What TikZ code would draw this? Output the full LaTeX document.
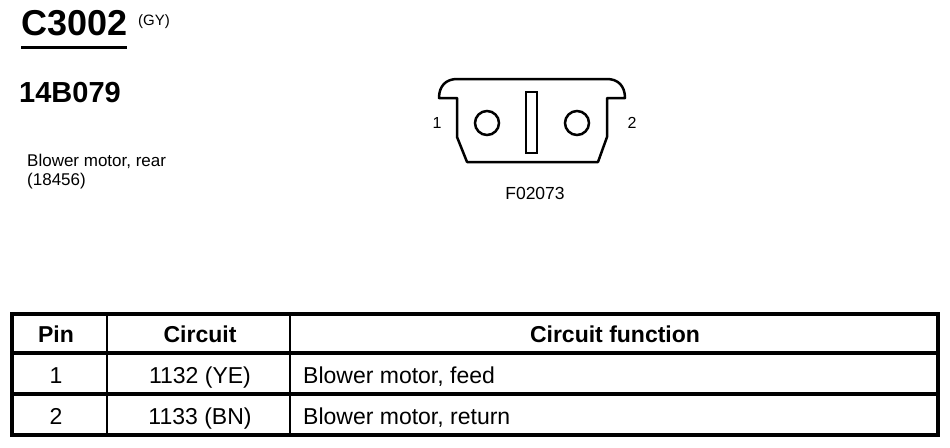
\documentclass[tikz,border=0pt]{standalone}
\usepackage{fontspec}
\setmainfont{Liberation Sans}
\usetikzlibrary{calc}
\tikzset{
  txt/.style={inner sep=0pt, anchor=base west},
  mid/.style={inner sep=0pt, anchor=base},
  hdr/.style={mid, font=\fontsize{23}{27}\selectfont\bfseries},
  cell/.style={font=\fontsize{23}{27}\selectfont},
}

\begin{document}
\begin{tikzpicture}[x=1pt,y=-1pt]
			%%%%% START %%%%%
			\useasboundingbox (0,0) rectangle (950,447);
			
			\node[txt, font=\fontsize{36}{40}\selectfont\bfseries] (conn) at (21,35) {C3002};
			\draw[line width=3pt] (21,47) -- (127,47);
			\node[txt, font=\fontsize{15}{17}\selectfont] (col) at (138,25) {(GY)};
			\node[txt, font=\fontsize{29}{33}\selectfont\bfseries] (part) at (19,102) {14B079};
			\node[txt, font=\fontsize{17}{20}\selectfont] (desc) at (27,166) {Blower motor, rear};
			\node[txt, font=\fontsize{17}{20}\selectfont] (num) at (27,185) {(18456)};
			
			% connector face
			\draw[line width=2.5pt, line join=round] (439,98) -- (457,98) -- (457,137) -- (467,162) -- (598,162) -- (607,137) -- (607,98) -- (625,98) .. controls (625,86) and (618,79) .. (607,79) -- (457,79) .. controls (446,79) and (439,86) .. (439,98) -- cycle;
			\draw[line width=2.5pt] (487,123) circle (12);
			\draw[line width=2.5pt] (577,123) circle (12);
			\draw[line width=2.5pt] (526,92) rectangle (537,153);
			\node[mid, font=\fontsize{16}{19}\selectfont] (pinA) at (437,128) {1};
			\node[mid, font=\fontsize{16}{19}\selectfont] (pinB) at (632,128) {2};
			\node[mid, font=\fontsize{17.5}{20}\selectfont] (fig) at (535,199) {F02073};
			
			% pin table
			\draw[line width=3.5pt] (12,314) rectangle (938,435);
			\draw[line width=3.5pt] (12,353) -- (938,353);
			\draw[line width=3.5pt] (12,394) -- (938,394);
			\draw[line width=2.5pt] (107,314) -- (107,435);
			\draw[line width=2.5pt] (290,314) -- (290,435);
			
			\node[hdr] (hPin) at (56,342) {Pin};
			\node[hdr] (hCirc) at (200,342) {Circuit};
			\node[hdr] (hFunc) at (615,342) {Circuit function};
			
			\node[mid, cell] (pin1) at (56,383) {1};
			\node[mid, cell] (circ1) at (200,383) {1132 (YE)};
			\node[txt, cell] (func1) at (303,383) {Blower motor, feed};
			
			\node[mid, cell] (pin2) at (56,424) {2};
			\node[mid, cell] (circ2) at (200,424) {1133 (BN)};
			\node[txt, cell] (func2) at (303,424) {Blower motor, return};
			
			%%%%% END %%%%%
\end{tikzpicture}
\end{document}
